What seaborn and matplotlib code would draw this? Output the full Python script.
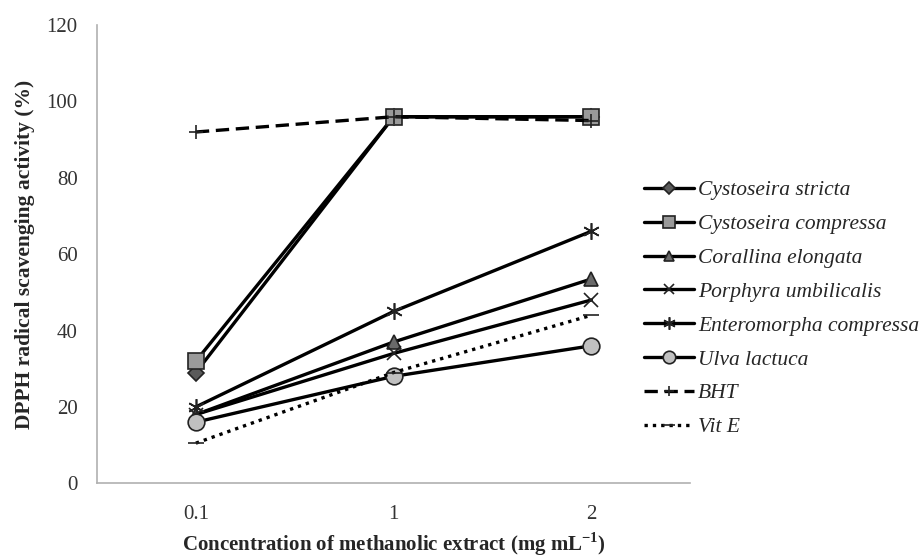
import matplotlib
matplotlib.use("Agg")
import matplotlib.pyplot as plt
import seaborn as sns
import pandas as pd

concentrations = ["0.1", "1", "2"]
series_names = ["Cystoseira stricta", "Cystoseira compressa", "Corallina elongata",
                "Porphyra umbilicalis", "Enteromorpha compressa", "Ulva lactuca",
                "BHT", "Vit E"]
cystoseira_stricta = [29, 96, 96]
cystoseira_compressa = [32, 96, 96]
corallina_elongata = [18, 37, 53.5]
porphyra_umbilicalis = [18, 34, 48]
enteromorpha_compressa = [20, 45, 66]
ulva_lactuca = [16, 28, 36]
bht = [92, 96, 95]
vit_e = [10.5, 29, 44]

values = [cystoseira_stricta, cystoseira_compressa, corallina_elongata,
          porphyra_umbilicalis, enteromorpha_compressa, ulva_lactuca, bht, vit_e]
markers = ["D", "s", "^", "x", (6, 2, 0), "o", "+", "_"]
facecolors = ["#5a5a5a", "#9a9a9a", "#6a6a6a", "black", "black", "#c0c0c0", "black", "black"]
markersizes = [8, 11, 10, 10, 12, 12, 10, 12]
linestyles = ["-", "-", "-", "-", "-", "-", (0, (4, 2)), (0, (1, 1.5))]

sns.set_style("white")
plt.rcParams["font.family"] = ["Liberation Serif", "DejaVu Serif"]

fig = plt.figure(figsize=(9.24, 5.58), dpi=100)
ax = fig.add_axes([0.105, 0.134, 0.642, 0.821])

for name, vals, m, fc, ms, ls in zip(series_names, values, markers, facecolors, markersizes, linestyles):
    df = pd.DataFrame({"conc": concentrations, "val": vals})
    sns.lineplot(data=df, x="conc", y="val", ax=ax, color="black", linewidth=2.4,
                 marker=m, markersize=ms, markerfacecolor=fc, markeredgecolor="#222222",
                 markeredgewidth=1.2, linestyle=ls, label=name, sort=False)

ax.set_xlim(-0.5, 2.5)
ax.set_ylim(0, 120)
ax.set_yticks(range(0, 121, 20))
ax.tick_params(axis="both", length=0, labelsize=15, labelcolor="#333333")
ax.tick_params(axis="x", pad=16)
ax.tick_params(axis="y", pad=14)
for s in ["top", "right"]:
    ax.spines[s].set_visible(False)
for s in ["left", "bottom"]:
    ax.spines[s].set_color("#b0b0b0")
    ax.spines[s].set_linewidth(1.2)

ax.set_xlabel("Concentration of methanolic extract (mg mL$^{\\mathregular{-1}}$)",
              fontsize=15, fontweight="bold", labelpad=4)
ax.set_ylabel("DPPH radical scavenging activity (%)", fontsize=15.5, fontweight="bold", labelpad=8)

leg = ax.legend(loc="upper left", bbox_to_anchor=(0.908, 0.68), frameon=False,
                prop={"family": ["Liberation Serif"], "style": "italic", "size": 15.5},
                handlelength=2.3, handletextpad=0.2, labelspacing=0.64, borderaxespad=0,
                markerscale=0.75)

fig.savefig("out.png", dpi=100)
